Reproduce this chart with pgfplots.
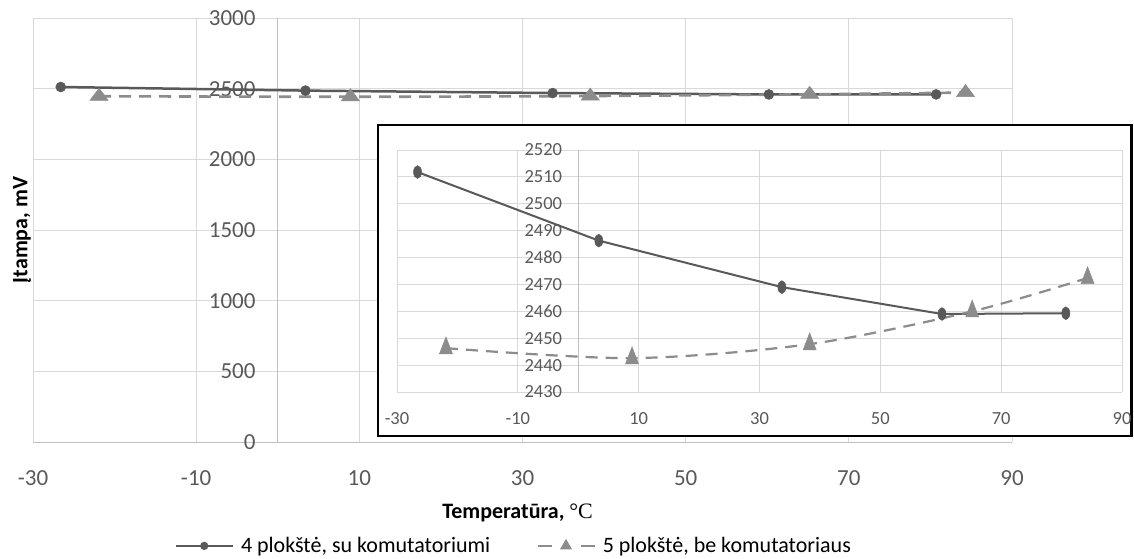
\documentclass[border=0pt]{standalone}
\usepackage{fontspec}
\setmainfont{Carlito}
\newfontfamily\serifC{Liberation Serif}
\usepackage{pgfplots}
\usepackage{pgfplotstable}
\pgfplotsset{compat=1.18}
\definecolor{gridc}{HTML}{D9D9D9}
\definecolor{axc}{HTML}{BFBFBF}
\definecolor{tickc}{HTML}{595959}
\definecolor{sA}{HTML}{595959}
\definecolor{sB}{HTML}{8C8C8C}

\pgfplotstableread{
x y
-26.6 2511.8
3.4 2486.3
33.7 2469.0
60.2 2459.0
80.7 2459.3
}\serA
\pgfplotstableread{
x y
-21.9 2446.3
8.9 2442.6
38.3 2447.8
65.2 2460.0
84.3 2472.4
}\serB

\begin{document}
\begin{tikzpicture}[x=1pt,y=1pt]
\useasboundingbox (0,0) rectangle (1134,558);
\begin{axis}[
  name=main,
  at={(33pt,116pt)}, anchor=south west,
  width=979pt, height=424pt, scale only axis,
  xmin=-30, xmax=90, ymin=0, ymax=3000,
  xtick={-30,-10,...,90}, ytick={0,500,...,3000},
  axis x line=bottom, axis y line=center,
  axis line style={-, draw=axc, line width=1pt},
  every inner y axis line/.append style={-},
  every outer x axis line/.append style={-},
  hide obscured x ticks=false, hide obscured y ticks=false,
  grid=major, grid style={draw=gridc, line width=0.9pt},
  major tick length=0pt,
  tick label style={font=\fontsize{23}{26}\selectfont, text=tickc},
  /pgf/number format/assume math mode=true,
  /pgf/number format/1000 sep={},
  yticklabel style={anchor=east, inner sep=0pt, xshift=-22pt},
  xticklabel style={anchor=north, inner sep=0pt, yshift=-28pt},
  clip=false,
  legend columns=2,
  legend style={draw=none, fill=none, at={(0.491,-0.245)}, anchor=center,
    font=\fontsize{22}{25}\selectfont,
    /tikz/every odd column/.append style={column sep=5pt},
    /tikz/every even column/.append style={column sep=44pt},
    cells={anchor=west}},
  legend image code/.code={\draw[mark repeat=2,mark phase=2,#1] plot coordinates {(0pt,0pt) (28.5pt,0pt) (57pt,0pt)};},
]
\addplot[forget plot, sA, line width=2.5pt, mark=*, mark size=5pt, mark options={solid, line width=0.5pt}] table {\serA};
\addplot[forget plot, sB, line width=2.6pt, dash pattern=on 12pt off 8pt, smooth, mark=triangle*, mark size=7pt, mark options={solid, line width=0.5pt, xscale=1.5, yscale=1.15}] table {\serB};
\addlegendimage{sA, line width=2.5pt, mark=*, mark size=2.8pt, mark options={solid}}
\addlegendentry{4 plokštė, su komutatoriumi}
\addlegendimage{sB, line width=2.5pt, dash pattern=on 14pt off 29pt, mark=triangle*, mark size=4.5pt, mark options={solid}}
\addlegendentry{5 plokštė, be komutatoriaus}
\node[rotate=90, font=\bfseries\fontsize{22}{25}\selectfont] at (axis description cs:-0.0112,0.5) {Įtampa, mV};
\node[font=\bfseries\fontsize{22}{25}\selectfont] at (axis description cs:0.495,-0.167) {Temperatūra, {\serifC\mdseries °C}};
\end{axis}
% inset frame
\draw[black, line width=2.5pt, fill=white] (378,122) rectangle (1131.5,433);
\begin{axis}[
  at={(397pt,166pt)}, anchor=south west,
  width=725pt, height=242pt, scale only axis,
  xmin=-30, xmax=90, ymin=2430, ymax=2520,
  xtick={-30,-10,...,90}, ytick={2430,2440,...,2520},
  axis x line=bottom, axis y line=center,
  axis line style={-, line width=1pt},
  x axis line style={draw=gridc},
  y axis line style={draw=axc},
  every inner y axis line/.append style={-},
  every outer x axis line/.append style={-},
  hide obscured x ticks=false, hide obscured y ticks=false,
  grid=major, grid style={draw=gridc, line width=0.9pt},
  major tick length=0pt,
  tick label style={font=\fontsize{18.5}{21}\selectfont, text=tickc},
  /pgf/number format/assume math mode=true,
  /pgf/number format/1000 sep={},
  yticklabel style={anchor=east, inner sep=0pt, xshift=-16pt},
  xticklabel style={anchor=north, inner sep=0pt, yshift=-20pt},
  clip=false,
]
\addplot[sA, line width=2pt, mark=*, mark size=4pt, mark options={solid, line width=0.5pt, yscale=1.6}] table {\serA};
\addplot[sB, line width=2.2pt, dash pattern=on 12pt off 8pt, smooth, mark=triangle*, mark size=7.5pt, mark options={solid, line width=0.5pt, yscale=1.5}] table {\serB};
\end{axis}
\end{tikzpicture}
\end{document}
